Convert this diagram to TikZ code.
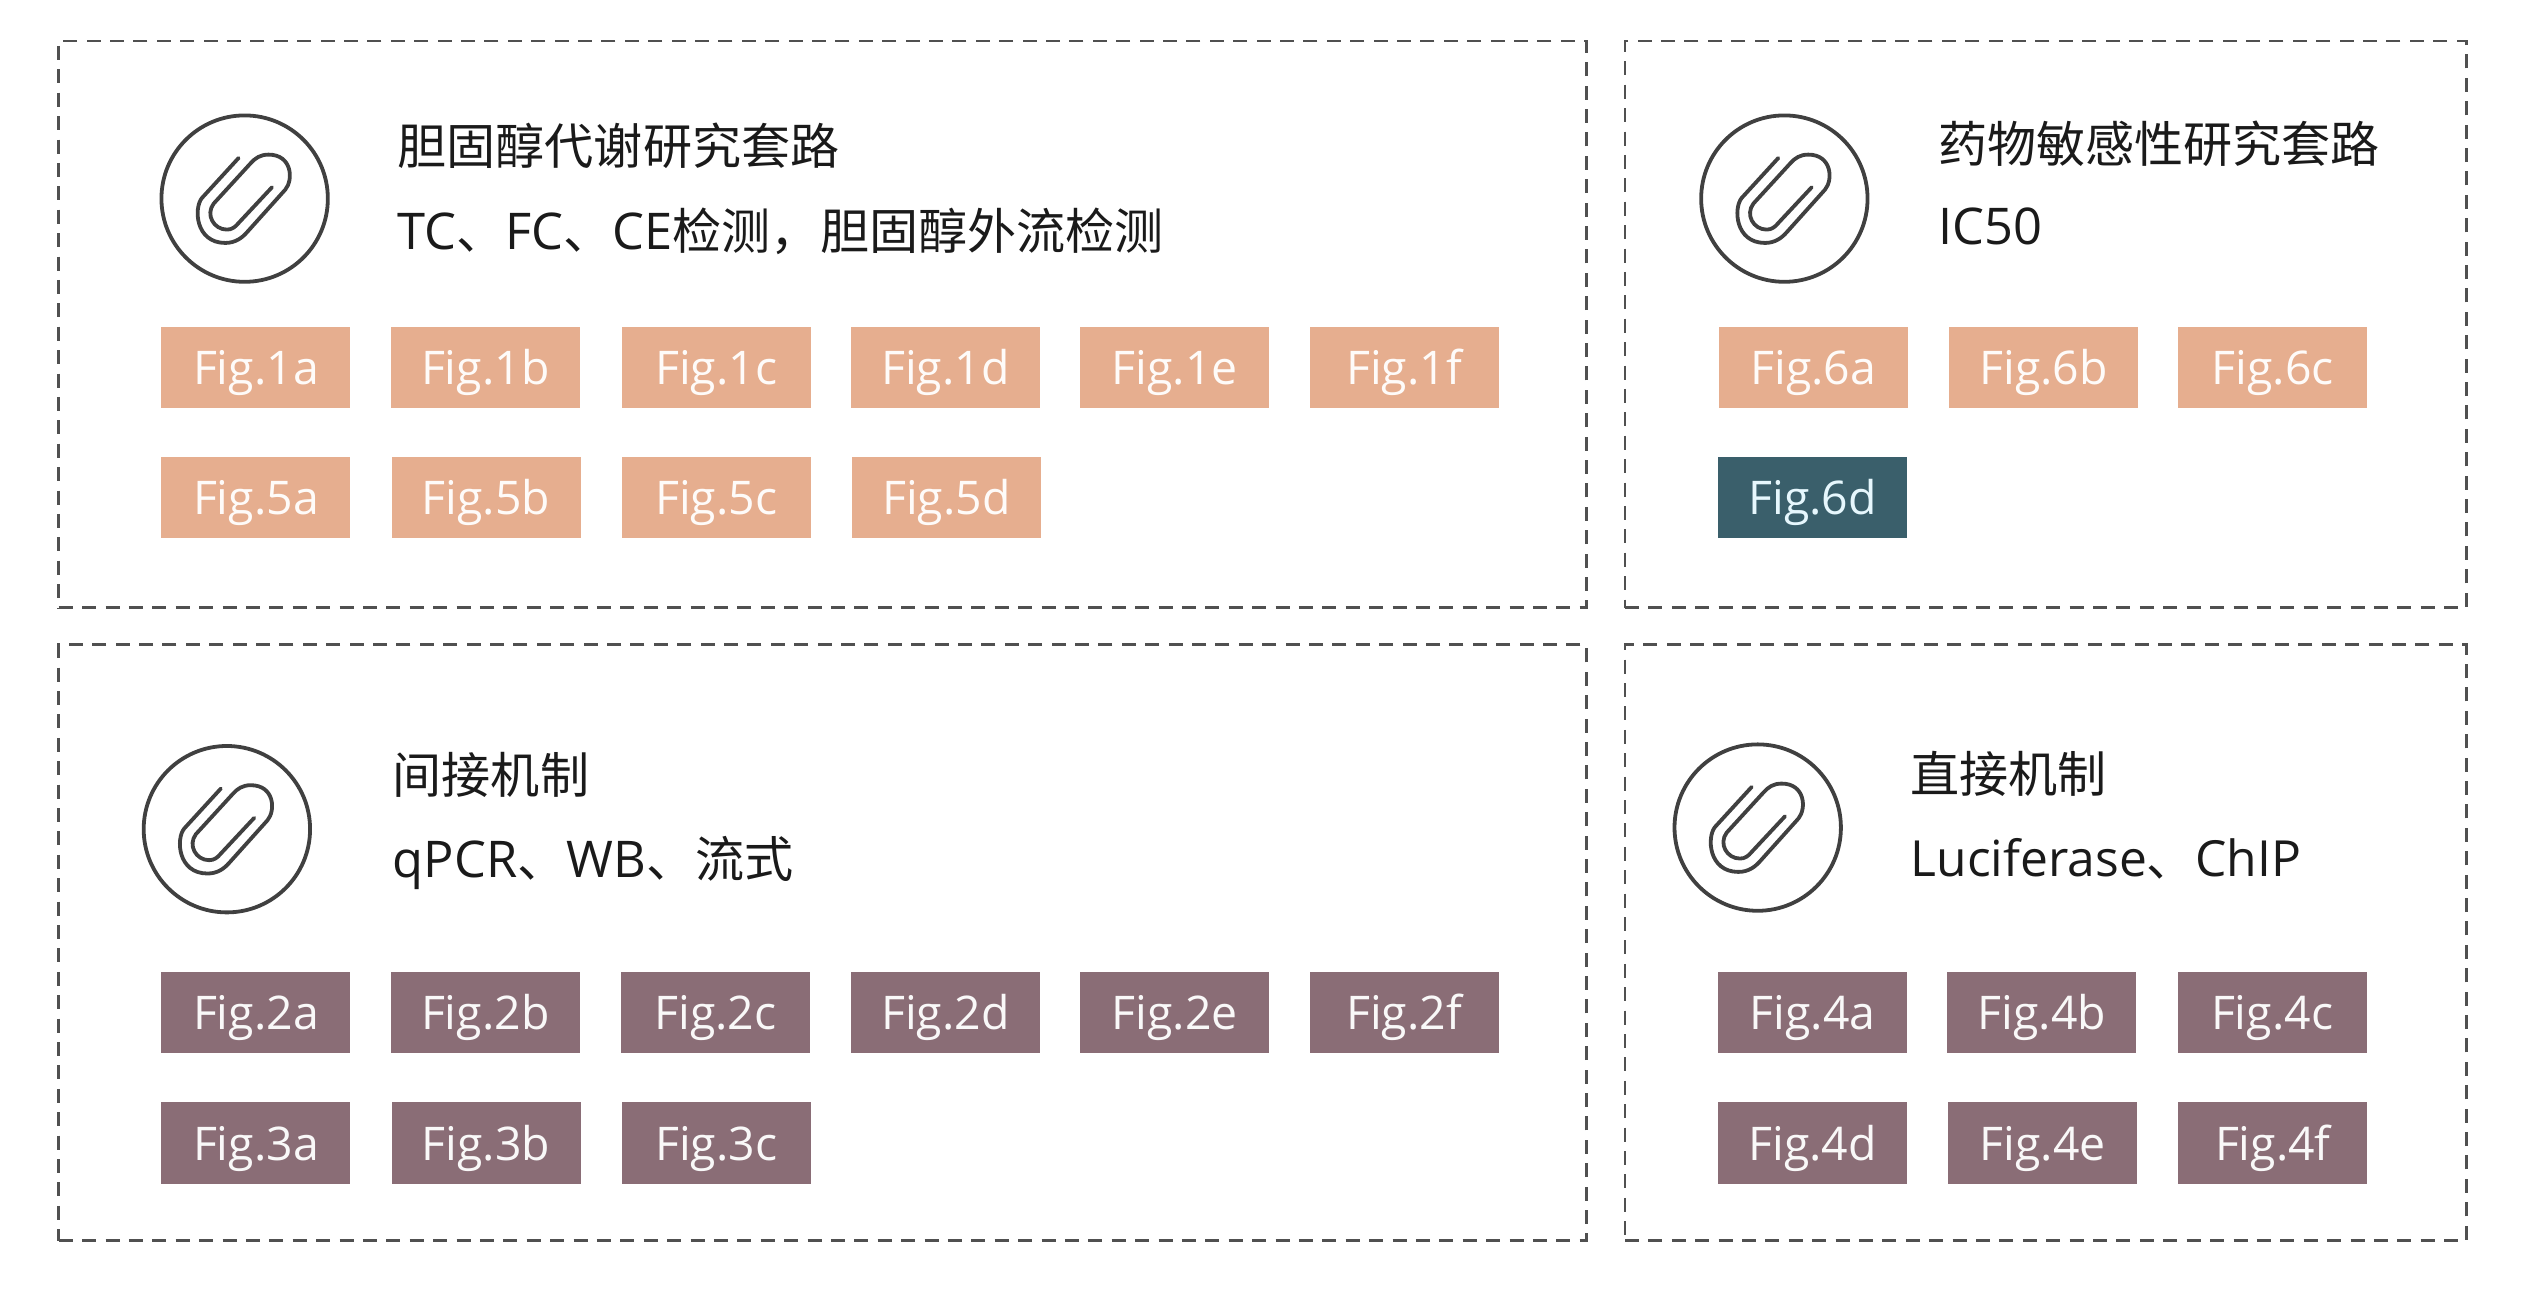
\documentclass[tikz,border=0pt]{standalone}
\usepackage{fontspec}
\setmainfont{Open Sans}
\newfontfamily\cjk[Scale=0.97]{Noto Sans CJK SC}
\definecolor{peach}{HTML}{E6AE8F}
\definecolor{mauve}{HTML}{8A6D76}
\definecolor{tealbox}{HTML}{3A5F6B}
\definecolor{inkgrey}{HTML}{404040}
\definecolor{dashgrey}{HTML}{505050}
\definecolor{textblack}{HTML}{1A1A1A}
\tikzset{
  x=0.8074pt,y=-0.8074pt,
  panel/.style={draw=dashgrey,line width=1.4pt,dash pattern=on 7pt off 4.7pt},
  figbox/.style={minimum width=94.5pt,minimum height=40.8pt,inner sep=0pt,text height=17.5pt,text depth=0pt,font=\fontsize{23.2}{26}\selectfont},
  peachbox/.style={figbox,fill=peach,text=white!95!peach},
  mauvebox/.style={figbox,fill=mauve,text=white!95!mauve},
  tealfig/.style={figbox,fill=tealbox,text=white!90!cyan},
  heading/.style={anchor=west,inner sep=0pt,text=textblack,font=\fontsize{25.3}{28}\selectfont},
  ring/.style={draw=inkgrey,line width=1.9pt,circle,minimum size=83.2pt,inner sep=0pt},
  clip icon/.pic={
    \draw[draw=inkgrey,line width=1.9pt,line cap=round,line join=round,scale=0.2064]
      (-18,-122) -- (-128,-2)
      .. controls (-153,28) and (-148,133) .. (-58,133)
      .. controls (-28,133) and (-8,118) .. (7,101)
      -- (122,-27)
      .. controls (147,-57) and (142,-132) .. (72,-132)
      .. controls (47,-132) and (32,-122) .. (17,-105)
      -- (-93,15)
      .. controls (-118,48) and (-93,93) .. (-53,93)
      .. controls (-38,93) and (-28,85) .. (-18,73)
      -- (82,-34);
  }
}
\newcommand{\panelbox}[5]{\node[panel,anchor=north west,minimum width=#4*0.8074pt-#2*0.8074pt,minimum height=#5*0.8074pt-#3*0.8074pt,inner sep=0pt] (#1) at (#2,#3) {};}
\begin{document}
\begin{tikzpicture}
\useasboundingbox (0,0) rectangle (1568,798.8);
\panelbox{panelA}{35.5}{24.5}{981.5}{375.5}
\panelbox{panelB}{1005.5}{24.5}{1526.5}{375.5}
\panelbox{panelC}{35.5}{398.5}{981.5}{767.5}
\panelbox{panelD}{1005.5}{398.5}{1526.5}{767.5}
% icons
\node[ring] (ringA) at (151.5,123) {}; \pic at (ringA.center) {clip icon};
\node[ring] (ringB) at (1105,123) {}; \pic at (ringB.center) {clip icon};
\node[ring] (ringC) at (140.5,513.5) {}; \pic at (ringC.center) {clip icon};
\node[ring] (ringD) at (1088.5,512.5) {}; \pic at (ringD.center) {clip icon};
% headings
\node[heading] (titleA) at (246,90) {\cjk 胆固醇代谢研究套路};
\node[heading] (subA) at (246,143) {TC{\cjk 、}FC{\cjk 、}CE{\cjk 检测，胆固醇外流检测}};
\node[heading] (titleB) at (1200,89) {\cjk 药物敏感性研究套路};
\node[heading] (subB) at (1200,140) {IC50};
\node[heading] (titleC) at (243,480) {\cjk 间接机制};
\node[heading] (subC) at (243,534.5) {qPCR{\cjk 、}WB{\cjk 、流式}};
\node[heading] (titleD) at (1183,479) {\cjk 直接机制};
\node[heading,font=\fontsize{24.9}{28}\selectfont] (subD) at (1183,532) {Luciferase{\cjk 、}ChIP};
% Fig 1
\node[peachbox] (f1a) at (158.5,227.5) {Fig.1a};
\node[peachbox] (f1b) at (300.5,227.5) {Fig.1b};
\node[peachbox] (f1c) at (443.5,227.5) {Fig.1c};
\node[peachbox] (f1d) at (585.5,227.5) {Fig.1d};
\node[peachbox] (f1e) at (727.5,227.5) {Fig.1e};
\node[peachbox] (f1f) at (869.5,227.5) {Fig.1f};
\node[peachbox] (f5a) at (158.5,308) {Fig.5a};
\node[peachbox] (f5b) at (301,308) {Fig.5b};
\node[peachbox] (f5c) at (443.5,308) {Fig.5c};
\node[peachbox] (f5d) at (586,308) {Fig.5d};
% Fig 6
\node[peachbox] (f6a) at (1123,227.5) {Fig.6a};
\node[peachbox] (f6b) at (1265.5,227.5) {Fig.6b};
\node[peachbox] (f6c) at (1407.5,227.5) {Fig.6c};
\node[tealfig] (f6d) at (1122.5,308) {Fig.6d};
% Fig 2, 3
\node[mauvebox] (f2a) at (158.5,627) {Fig.2a};
\node[mauvebox] (f2b) at (300.5,627) {Fig.2b};
\node[mauvebox] (f2c) at (443,627) {Fig.2c};
\node[mauvebox] (f2d) at (585.5,627) {Fig.2d};
\node[mauvebox] (f2e) at (727.5,627) {Fig.2e};
\node[mauvebox] (f2f) at (869.5,627) {Fig.2f};
\node[mauvebox] (f3a) at (158.5,708) {Fig.3a};
\node[mauvebox] (f3b) at (301,708) {Fig.3b};
\node[mauvebox] (f3c) at (443.5,708) {Fig.3c};
% Fig 4
\node[mauvebox] (f4a) at (1122.5,627) {Fig.4a};
\node[mauvebox] (f4b) at (1264.5,627) {Fig.4b};
\node[mauvebox] (f4c) at (1407,627) {Fig.4c};
\node[mauvebox] (f4d) at (1122.5,708) {Fig.4d};
\node[mauvebox] (f4e) at (1265,708) {Fig.4e};
\node[mauvebox] (f4f) at (1407.5,708) {Fig.4f};
\end{tikzpicture}
\end{document}
